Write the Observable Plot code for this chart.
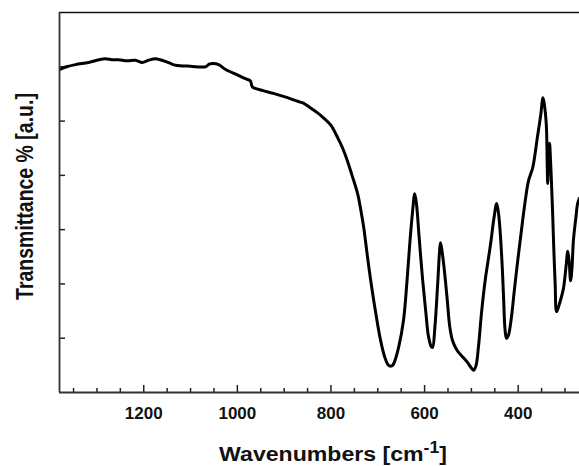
<!DOCTYPE html>
<html>
<head>
<meta charset="utf-8">
<script src="https://cdn.jsdelivr.net/npm/d3@7"></script>
<script src="https://cdn.jsdelivr.net/npm/@observablehq/plot@0.6"></script>
<style>
  html, body { margin: 0; padding: 0; background: #fff; }
  #chart { width: 579px; height: 466px; }
</style>
</head>
<body>
<div id="chart"></div>
<script>
const wavenumber = [1380,1365,1346,1318,1300,1282,1268,1254,1235,1218,1203,1190,1175,1165,1154,1140,1132,1100,1068,1060,1052,1040,1025,1000,983,972,968,945,923,900,886,870,859,845,830,816,800,786,775,765,755,743,736,730,722,715,705,694,685,677,670,666,655,645,638,632,626,621,617,612,604,597,592,586,583,578,572,568,566,563,559,552,546,540,530,518,508,500,495,490,485,478,470,463,458,452,446,442,438,434,431,428,425,421,415,408,400,395,387,378,369,359,352,347,344,340,338,337,335,333,331,329,326,324,321,318,313,308,303,298,294,291,288,285,282,277,273,269];
const transmittance = [5.95,6.00,6.04,6.08,6.12,6.15,6.13,6.13,6.11,6.12,6.08,6.12,6.15,6.13,6.10,6.05,6.03,6.01,6.00,6.05,6.06,6.04,5.95,5.85,5.78,5.74,5.63,5.56,5.51,5.45,5.41,5.36,5.33,5.25,5.16,5.06,4.92,4.70,4.50,4.27,4.00,3.66,3.35,3.04,2.50,2.06,1.50,0.96,0.65,0.50,0.49,0.53,0.85,1.33,2.00,2.70,3.30,3.66,3.45,2.90,2.06,1.45,1.05,0.85,0.83,1.20,2.00,2.60,2.76,2.62,2.35,1.75,1.20,0.95,0.77,0.65,0.55,0.45,0.41,0.50,0.83,1.50,2.10,2.50,2.80,3.20,3.48,3.30,2.90,2.30,1.70,1.15,1.00,1.05,1.35,1.90,2.50,2.85,3.40,3.90,4.14,4.70,5.10,5.43,5.30,4.95,4.20,3.85,4.30,4.59,4.30,3.90,3.20,2.67,2.00,1.49,1.60,1.75,1.93,2.30,2.60,2.40,2.06,2.30,2.80,3.20,3.48,3.58];
const xMajorTicks = [1200, 1000, 800, 600, 400];
const xMinorTicks = [1350, 1300, 1250, 1150, 1100, 1050, 950, 900, 850, 750, 700, 650, 550, 500, 450, 350, 300];
const yMajorTicks = [1, 2, 3, 4, 5, 6];
const xDomain = [1380, 269];
const yDomain = [0, 7];
const xTitle = "Wavenumbers [cm";
const xTitleSup = "-1";
const xTitleEnd = "]";
const yTitle = "Transmittance % [a.u.]";

const data = wavenumber.map((w, i) => ({w, t: transmittance[i]}));

const W = 579, H = 466;
const mL = 59, mT = 12, mR = 0, mB = 74;
const innerW = W - mL - mR, innerH = H - mT - mB;
const font = "'Liberation Sans', Arial, Helvetica, sans-serif";

const plot = Plot.plot({
  width: W,
  height: H,
  marginLeft: mL,
  marginTop: mT,
  marginRight: mR,
  marginBottom: mB,
  style: {fontFamily: font, background: "#fff", color: "#111"},
  x: {domain: xDomain, axis: null},
  y: {domain: yDomain, axis: null},
  marks: [
    Plot.axisX(xMajorTicks, {tickSize: 0, tickPadding: 14, fontSize: 17, fontWeight: "bold", label: null, tickFormat: d => String(d)}),
    Plot.tickX(xMajorTicks, {x: d => d, insetTop: innerH - 7, stroke: "#222", strokeWidth: 1.5}),
    Plot.tickX(xMinorTicks, {x: d => d, insetTop: innerH - 4, stroke: "#222", strokeWidth: 1.5}),
    Plot.tickY(yMajorTicks, {y: d => d, insetRight: innerW - 6, stroke: "#222", strokeWidth: 1.5}),
    Plot.line(data, {x: "w", y: "t", stroke: "#000", strokeWidth: 3, curve: "catmull-rom", clip: true}),
    Plot.ruleY([yDomain[1]], {stroke: "#111", strokeWidth: 1.5}),
    Plot.ruleY([yDomain[0]], {stroke: "#333", strokeWidth: 1.8}),
    Plot.ruleX([xDomain[0]], {stroke: "#333", strokeWidth: 1.8})
  ]
});

const svg = d3.select(plot);
const xt = svg.append("text")
  .attr("transform", "translate(333,461) scale(1.1,1)")
  .attr("text-anchor", "middle")
  .attr("font-family", font).attr("font-weight", "bold").attr("font-size", 21).attr("fill", "#111");
xt.append("tspan").text(xTitle);
xt.append("tspan").attr("dy", -8).attr("font-size", 16).text(xTitleSup);
xt.append("tspan").attr("dy", 8).text(xTitleEnd);

svg.append("text")
  .attr("transform", "translate(33,196.5) scale(1.2,1) rotate(-90)")
  .attr("text-anchor", "middle")
  .attr("font-family", font).attr("font-weight", "bold").attr("font-size", 19.5).attr("fill", "#111")
  .text(yTitle);

document.getElementById("chart").appendChild(plot);
</script>
</body>
</html>
